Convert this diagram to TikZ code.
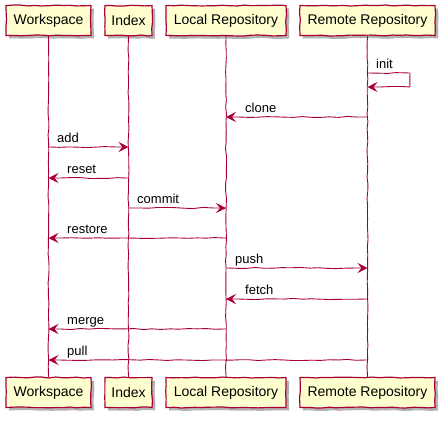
\documentclass[tikz,border=0pt]{standalone}
\usepackage{fontspec}
\setmainfont{Liberation Sans}
\usetikzlibrary{arrows.meta,shadows,decorations.pathmorphing}
\definecolor{umlred}{HTML}{A80036}
\definecolor{umlbox}{HTML}{FEFECE}
\tikzset{
    hand/.style={decorate,decoration={random steps,segment length=7pt,amplitude=0.5pt,pre length=1pt,post length=1pt}},
    actor/.style={draw=umlred,fill=umlbox,line width=1.2pt,minimum height=30pt,inner sep=0pt,hand,
        font=\fontsize{14}{16}\selectfont,
        drop shadow={shadow xshift=3pt,shadow yshift=-3pt,opacity=0.3,fill=black}},
    life/.style={draw=umlred,line width=0.9pt,hand},
    msg/.style={draw=umlred,line width=0.9pt,-{Stealth[length=10pt,width=10pt,inset=4pt]},
        decorate,decoration={random steps,segment length=9pt,amplitude=0.6pt,pre length=2pt,post length=12pt}},
    lbl/.style={anchor=base west,inner sep=0pt,font=\fontsize{13}{15}\selectfont}
}
\pgfmathsetseed{7}

\begin{document}
\begin{tikzpicture}[x=1pt,y=-1pt]
        \useasboundingbox (0,0) rectangle (447,421);
        \node[actor,minimum width=85pt] (ws) at (48.5,20.5) {Workspace};
        \node[actor,minimum width=47pt] (ix) at (128.5,20.5) {Index};
        \node[actor,minimum width=120pt] (lr) at (226,20.5) {Local Repository};
        \node[actor,minimum width=135pt] (rr) at (367.5,20.5) {Remote Repository};
        \node[actor,minimum width=85pt] (wsb) at (48.5,392.5) {Workspace};
        \node[actor,minimum width=47pt] (ixb) at (128.5,392.5) {Index};
        \node[actor,minimum width=120pt] (lrb) at (226,392.5) {Local Repository};
        \node[actor,minimum width=135pt] (rrb) at (367.5,392.5) {Remote Repository};
        \draw[life] (ws) -- (wsb);
        \draw[life] (ix) -- (ixb);
        \draw[life] (lr) -- (lrb);
        \draw[life] (rr) -- (rrb);
        \coordinate (loop) at (410,73);
        \draw[msg] (rr |- loop) -- (loop) -- (410,87) -- (rr |- 0,87);
        \node[lbl] (init) at (376,68.5) {init};
        \draw[msg] (rr |- 0,117) -- (lr |- 0,117);
        \node[lbl] (clone) at (245,112.5) {clone};
        \draw[msg] (ws |- 0,147) -- (ix |- 0,147);
        \node[lbl] (add) at (57,142.5) {add};
        \draw[msg] (ix |- 0,178) -- (ws |- 0,178);
        \node[lbl] (reset) at (67,173.5) {reset};
        \draw[msg] (ix |- 0,208) -- (lr |- 0,208);
        \node[lbl] (commit) at (137,203.5) {commit};
        \draw[msg] (lr |- 0,238) -- (ws |- 0,238);
        \node[lbl] (restore) at (67,233.5) {restore};
        \draw[msg] (lr |- 0,268) -- (rr |- 0,268);
        \node[lbl] (push) at (235,263.5) {push};
        \draw[msg] (rr |- 0,299) -- (lr |- 0,299);
        \node[lbl] (fetch) at (245,294.5) {fetch};
        \draw[msg] (lr |- 0,329) -- (ws |- 0,329);
        \node[lbl] (merge) at (67,324.5) {merge};
        \draw[msg] (rr |- 0,360) -- (ws |- 0,360);
        \node[lbl] (pull) at (67,355.5) {pull};
    \end{tikzpicture}
\end{document}
